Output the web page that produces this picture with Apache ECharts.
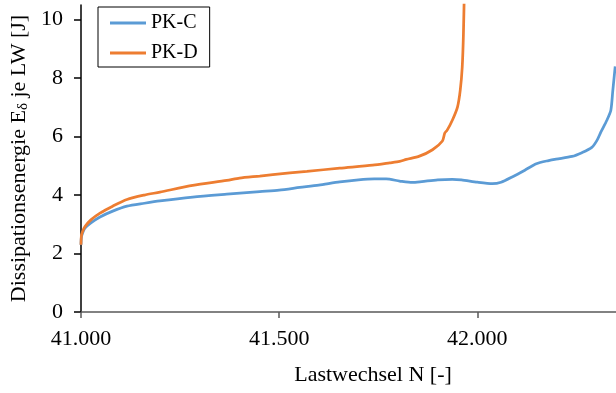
<!DOCTYPE html>
<html>
<head>
<meta charset="utf-8">
<script src="https://cdn.jsdelivr.net/npm/echarts@6/dist/echarts.min.js"></script>
<style>html,body{margin:0;padding:0;background:#fff;}#c{width:616px;height:393px;}</style>
</head>
<body>
<div id="c"></div>
<script>
// Lastwechsel N (x) and Dissipationsenergie (y) for each specimen
const xPKC = [41000, 41001, 41004, 41010, 41025, 41048, 41080, 41116, 41160, 41199, 41282, 41368, 41451, 41500, 41552, 41600, 41653, 41700, 41740, 41770, 41804, 41836, 41860, 41900, 41937, 41960, 42000, 42038, 42060, 42088, 42120, 42149, 42180, 42199, 42239, 42264, 42289, 42302, 42312, 42327, 42337, 42342, 42348];
const yPKC = [2.3, 2.55, 2.7, 2.87, 3.05, 3.25, 3.45, 3.62, 3.72, 3.8, 3.93, 4.03, 4.12, 4.17, 4.26, 4.34, 4.45, 4.52, 4.55, 4.55, 4.48, 4.43, 4.46, 4.52, 4.54, 4.52, 4.44, 4.39, 4.44, 4.62, 4.85, 5.07, 5.18, 5.23, 5.32, 5.45, 5.63, 5.87, 6.16, 6.56, 6.9, 7.58, 8.4];
const xPKD = [41000, 41001, 41004, 41010, 41025, 41048, 41080, 41116, 41160, 41199, 41282, 41368, 41400, 41451, 41484, 41570, 41653, 41736, 41779, 41804, 41821, 41854, 41887, 41912, 41918, 41924, 41937, 41950, 41957, 41962, 41965, 41968];
const yPKD = [2.3, 2.6, 2.75, 2.92, 3.15, 3.38, 3.62, 3.85, 4.0, 4.1, 4.33, 4.5, 4.58, 4.65, 4.7, 4.81, 4.92, 5.02, 5.1, 5.15, 5.22, 5.33, 5.55, 5.85, 6.12, 6.22, 6.56, 7.01, 7.59, 8.38, 9.5, 11.5];
const seriesNames = ['PK-C', 'PK-D'];
const xTicks = [41000, 41500, 42000];
const yTicks = [0, 2, 4, 6, 8, 10];

const pairs = (xs, ys) => xs.map((x, i) => [x, ys[i]]);
const FONT = '"Liberation Serif", "Times New Roman", serif';

const chart = echarts.init(document.getElementById('c'), null, {renderer: 'canvas'});
chart.setOption({
  animation: false,
  backgroundColor: '#ffffff',
  grid: {left: 81, right: 0, top: 5, bottom: 81, containLabel: false, outerBoundsMode: 'none'},
  legend: {
    orient: 'vertical', left: 98, top: 7,
    padding: [6, 12, 4, 12],
    itemGap: 10, itemWidth: 36, itemHeight: 3, icon: 'rect',
    borderColor: '#000', borderWidth: 1,
    textStyle: {fontFamily: FONT, fontSize: 20, color: '#000'},
    data: seriesNames
  },
  xAxis: {
    type: 'value', min: 41000, max: 42350,
    name: 'Lastwechsel N [-]', nameLocation: 'middle', nameGap: 52,
    nameTextStyle: {fontFamily: FONT, fontSize: 22, color: '#000', padding: [0, 0, 0, 49]},
    axisLine: {show: true, onZero: false, lineStyle: {color: '#595959', width: 1.5}},
    axisTick: {show: true, length: 6, customValues: xTicks, lineStyle: {color: '#595959', width: 1.5}},
    axisLabel: {fontFamily: FONT, fontSize: 22, color: '#000', margin: 16, customValues: xTicks,
      formatter: v => (v / 1000).toFixed(3)},
    splitLine: {show: false}
  },
  yAxis: {
    type: 'value', min: 0, max: 10.5,
    name: '{a|Dissipationsenergie E}{b|δ}{a| je LW [J]}', nameLocation: 'middle', nameGap: 50, nameRotate: 90,
    nameTextStyle: {fontFamily: FONT, fontSize: 22, color: '#000',
      rich: {
        a: {fontFamily: FONT, fontSize: 22, color: '#000', lineHeight: 24, verticalAlign: 'bottom'},
        b: {fontFamily: FONT, fontSize: 15, color: '#000', lineHeight: 15, verticalAlign: 'bottom', padding: [0, 0, 0, 0]}
      }},
    axisLine: {show: true, lineStyle: {color: '#000', width: 1.5}},
    axisTick: {show: true, length: 7, customValues: yTicks, lineStyle: {color: '#000', width: 1.5}},
    axisLabel: {fontFamily: FONT, fontSize: 22, color: '#000', margin: 18, customValues: yTicks},
    splitLine: {show: false}
  },
  series: [
    {name: seriesNames[0], type: 'line', data: pairs(xPKC, yPKC), showSymbol: false, symbol: 'none',
      smooth: 0.25, clip: true,
      lineStyle: {color: '#5B9BD5', width: 2.75}, itemStyle: {color: '#5B9BD5'}},
    {name: seriesNames[1], type: 'line', data: pairs(xPKD, yPKD), showSymbol: false, symbol: 'none',
      smooth: 0.25, clip: true,
      lineStyle: {color: '#ED7D31', width: 2.75}, itemStyle: {color: '#ED7D31'}}
  ]
});
</script>
</body>
</html>
